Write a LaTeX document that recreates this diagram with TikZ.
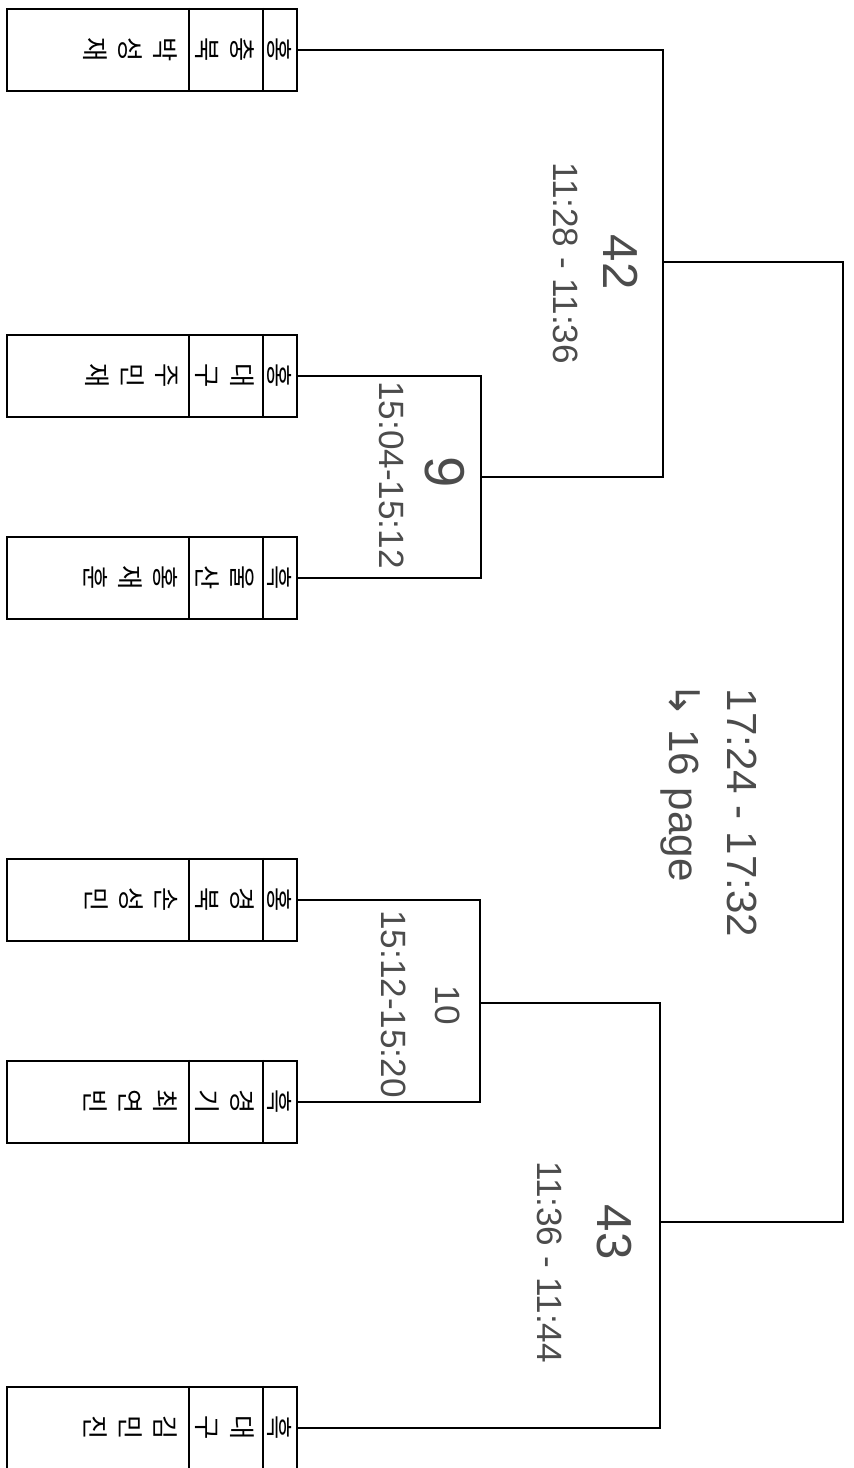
\documentclass[tikz,border=0pt]{standalone}
\usepackage{fontspec}
\setmainfont{Liberation Sans}
\newfontfamily\cjk{Noto Sans CJK KR}
\newfontfamily\sym{DejaVu Sans}
\usetikzlibrary{calc}

\tikzset{
  entrybox/.style={draw, line width=1.2pt, minimum width=5.8cm, minimum height=1.64cm, inner sep=0pt},
  divider/.style={line width=1.2pt},
  celltext/.style={font=\cjk\fontsize{15}{20}\selectfont, align=center, rotate=-90, inner sep=0pt},
  link/.style={line width=0.8pt},
  hand/.style={font=\fontsize{20}{20}\selectfont, text=black!70, rotate=-90, inner sep=0pt},
  handbig/.style={hand, font=\fontsize{28}{28}\selectfont},
}

\begin{document}
\begin{tikzpicture}[x=0.02cm, y=-0.02cm]
  \useasboundingbox (0,0) rectangle (853,1468);

  % entry boxes: corner | region | name
  \foreach \b/\yc/\side/\prov/\name in {
      b1/50/홍/{충\\북}/{박\\성\\재},
      b2/376/홍/{대\\구}/{주\\민\\재},
      b3/578/흑/{울\\산}/{홍\\재\\훈},
      b4/900/홍/{경\\북}/{손\\성\\민},
      b5/1102/흑/{경\\기}/{최\\연\\빈},
      b6/1428/흑/{대\\구}/{김\\민\\진}} {
    \node[entrybox] (\b) at (152,\yc) {};
    \draw[divider] ($(\b.north east)+(-35,0)$) -- ($(\b.south east)+(-35,0)$);
    \draw[divider] ($(\b.north east)+(-109,0)$) -- ($(\b.south east)+(-109,0)$);
    \node[celltext] (\b side) at (280,\yc) {\side};
    \node[celltext] (\b prov) at (225,\yc) {\prov};
    \node[celltext, anchor=north] (\b name) at (178,\yc) {\name};
  }

  % junctions
  \coordinate (j9) at (481,477);
  \coordinate (j10) at (480,1003);
  \coordinate (j42) at (663,262);
  \coordinate (j43) at (660,1222);
  \coordinate (jf) at (843,740);

  \draw[link] (b2.east) -| (j9) |- (b3.east);
  \draw[link] (b4.east) -| (j10) |- (b5.east);
  \draw[link] (b1.east) -| (j42) |- (j9);
  \draw[link] (b6.east) -| (j43) |- (j10);
  \draw[link] (j42) -| (jf) |- (j43);

  % handwritten notes
  \node[handbig] (n42) at (621,262) {42};
  \node[hand] (t42) at (566,263) {11:28 - 11:36};
  \node[handbig, font=\fontsize{32}{32}\selectfont] (n9) at (445,472) {9};
  \node[hand] (t9) at (392,475) {15:04-15:12};
  \node[hand, font=\fontsize{20}{20}\selectfont] (n10) at (448,1005) {10};
  \node[hand] (t10) at (394,1004) {15:12-15:20};
  \node[handbig] (n43) at (614,1232) {43};
  \node[hand] (t43) at (550,1262) {11:36 - 11:44};
  \node[hand, font=\fontsize{24}{24}\selectfont] (tf) at (742,813) {17:24 - 17:32};
  \node[hand, font=\fontsize{24}{24}\selectfont] (pg) at (680,782) {{\sym ↳} 16 page};
\end{tikzpicture}
\end{document}
